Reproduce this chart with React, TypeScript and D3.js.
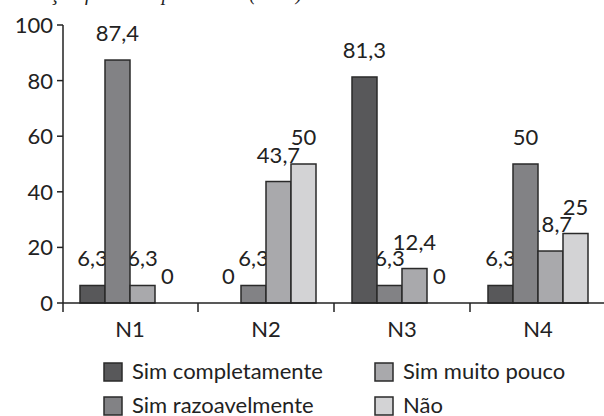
import React from 'react';
import * as d3 from 'd3';

const groups = ['N1', 'N2', 'N3', 'N4'];
const series = ['Sim completamente', 'Sim razoavelmente', 'Sim muito pouco', 'Não'];
const simCompletamente = [6.3, 0, 81.3, 6.3];
const simRazoavelmente = [87.4, 6.3, 6.3, 50];
const simMuitoPouco = [6.3, 43.7, 12.4, 18.7];
const nao = [0, 50, 0, 25];
const yTicks = [0, 20, 40, 60, 80, 100];
const title = 'Avaliação forma de presencial (em%)';

const values = [simCompletamente, simRazoavelmente, simMuitoPouco, nao];
const colors = ['#58585a', '#828285', '#a9a9ac', '#d3d3d5'];
const font = 'Lato, "Noto Sans", sans-serif';

const fmt = (v: number) => String(v).replace('.', ',');

export default function App() {
  const width = 604,
    height = 416;

  const y = d3.scaleLinear().domain([0, 100]).range([303, 25]);

  const x0 = d3
    .scaleBand()
    .domain(groups)
    .range([62, 606])
    .paddingInner(0.2647)
    .paddingOuter(0.13235);

  const x1 = d3.scaleBand().domain(series).range([0, x0.bandwidth()]);

  const step = x0.step();
  const gap = step * 0.2647;
  // tick marks sit between the groups
  const xTicks = groups.map(g => (x0(g) as number) - gap / 2);

  const axisX = 63;

  const legend = series.map((s, i) => ({
    name: s,
    color: colors[i],
    x: i < 2 ? 104 : 375,
    y: i % 2 === 0 ? 363 : 397
  }));

  return (
    <svg
      width={width}
      height={height}
      style={{ position: 'absolute', left: 0, top: 0, background: '#fff' }}
      fontFamily={font}
    >
      {/* title sits mostly above the crop, only descenders show */}
      <text x={0} y={-0.5} fontFamily="'Liberation Serif', serif" fontStyle="italic" fontSize={20} fill="#222">
        {title}
      </text>

      {/* value labels go under the bars, so tall neighbours hide part of them */}
      {groups.map((g, gi) =>
        series.map((s, si) => {
          const v = values[si][gi];
          const cx = (x0(g) as number) + (x1(s) as number) + x1.bandwidth() / 2;
          return (
            <text key={`l${g}${s}`} x={cx} y={y(v) - 19} textAnchor="middle" fontSize={22} fill="#222">
              {fmt(v)}
            </text>
          );
        })
      )}

      {groups.map((g, gi) =>
        series.map((s, si) => {
          const v = values[si][gi];
          if (v === 0) return null;
          return (
            <rect
              key={`b${g}${s}`}
              x={(x0(g) as number) + (x1(s) as number)}
              y={y(v)}
              width={x1.bandwidth()}
              height={y(0) - y(v)}
              fill={colors[si]}
              stroke="#2a2a2a"
              strokeWidth={1.5}
            />
          );
        })
      )}

      {/* y axis */}
      <line x1={axisX} x2={axisX} y1={y(100)} y2={y(0)} stroke="#222" strokeWidth={1.5} />
      {yTicks.map(t => (
        <g key={`y${t}`}>
          <line x1={axisX - 6} x2={axisX} y1={y(t)} y2={y(t)} stroke="#222" strokeWidth={1.5} />
          <text x={axisX - 10} y={y(t)} dy="0.36em" textAnchor="end" fontSize={22} fill="#222">
            {t}
          </text>
        </g>
      ))}

      {/* x axis */}
      <line x1={axisX} x2={width} y1={y(0)} y2={y(0)} stroke="#222" strokeWidth={1.5} />
      {xTicks.map((t, i) => (
        <line key={`xt${i}`} x1={i === 0 ? axisX : t} x2={i === 0 ? axisX : t} y1={y(0)} y2={y(0) + 9} stroke="#222" strokeWidth={1.5} />
      ))}
      {groups.map(g => (
        <text key={`x${g}`} x={(x0(g) as number) + x0.bandwidth() / 2} y={337} textAnchor="middle" fontSize={22} fill="#222">
          {g}
        </text>
      ))}

      {legend.map(d => (
        <g key={d.name} transform={`translate(${d.x},${d.y})`}>
          <rect x={0} y={0} width={18} height={18} fill={d.color} stroke="#2a2a2a" strokeWidth={1.5} />
          <text x={28} y={16} fontSize={22} fill="#222">
            {d.name}
          </text>
        </g>
      ))}
    </svg>
  );
}
